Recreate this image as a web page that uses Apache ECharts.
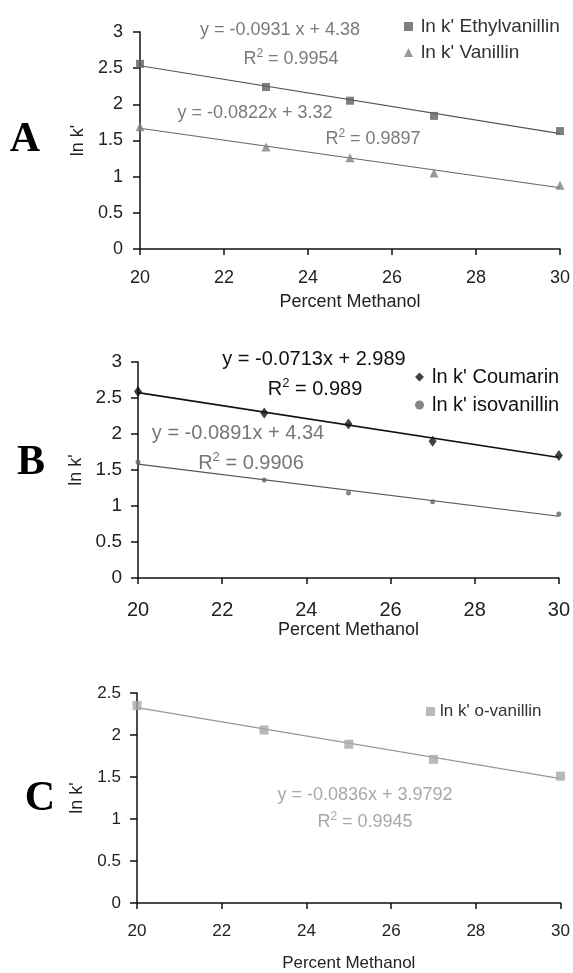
<!DOCTYPE html>
<html>
<head>
<meta charset="utf-8">
<script src="https://cdn.jsdelivr.net/npm/echarts@6/dist/echarts.min.js"></script>
<style>
  html, body { margin: 0; padding: 0; background: #fff; }
  #chart { width: 573px; height: 973px; }
</style>
</head>
<body>
<div id="chart"></div>
<script>
// Percent methanol in the mobile phase
const methanol = [20, 23, 25, 27, 30];

// ln k' retention values per compound
const ethylvanillin = [2.56, 2.24, 2.05, 1.84, 1.63];
const vanillin      = [1.69, 1.41, 1.26, 1.05, 0.88];
const coumarin      = [2.59, 2.29, 2.14, 1.90, 1.70];
const isovanillin   = [1.61, 1.36, 1.18, 1.06, 0.89];
const oVanillin     = [2.35, 2.06, 1.89, 1.71, 1.51];

// Trend-line annotations: equation, R squared
const eqEthyl = ['y = -0.0931 x + 4.38', '0.9954'];
const eqVan   = ['y = -0.0822x + 3.32', '0.9897'];
const eqCoum  = ['y = -0.0713x + 2.989', '0.989'];
const eqIso   = ['y = -0.0891x + 4.34', '0.9906'];
const eqOVan  = ['y = -0.0836x + 3.9792', '0.9945'];

const FONT = 'Liberation Sans, Arial, sans-serif';

function pairs(ys) { return methanol.map((x, i) => [x, ys[i]]); }

// least-squares fit, drawn across the full x range
function fitLine(ys) {
  const n = methanol.length;
  const mx = methanol.reduce((a, b) => a + b, 0) / n;
  const my = ys.reduce((a, b) => a + b, 0) / n;
  let sxy = 0, sxx = 0;
  methanol.forEach((x, i) => { sxy += (x - mx) * (ys[i] - my); sxx += (x - mx) * (x - mx); });
  const b = sxy / sxx, a = my - b * mx;
  return [[20, a + b * 20], [30, a + b * 30]];
}

const grids = [
  { left: 140, top: 32,  width: 423, height: 217 },
  { left: 138, top: 362, width: 423, height: 216 },
  { left: 137, top: 693, width: 425, height: 210 }
];

function xAxisFor(idx, fs, margin, gap, nameFs) {
  return {
    gridIndex: idx, type: 'value', min: 20, max: 30, interval: 2,
    name: 'Percent Methanol', nameLocation: 'middle', nameGap: gap,
    nameTextStyle: { fontFamily: FONT, fontSize: nameFs, color: '#222' },
    axisLine: { show: true, lineStyle: { color: '#111', width: 1.5 } },
    axisTick: { show: true, inside: false, length: 6, lineStyle: { color: '#111', width: 1.5 } },
    axisLabel: { fontFamily: FONT, fontSize: fs, color: '#222', margin: margin },
    splitLine: { show: false }
  };
}
function yAxisFor(idx, max, fs, margin, gap) {
  return {
    gridIndex: idx, type: 'value', min: 0, max: max, interval: 0.5,
    name: "ln k'", nameLocation: 'middle', nameGap: gap, nameRotate: 90,
    nameTextStyle: { fontFamily: FONT, fontSize: 18, color: '#222' },
    axisLine: { show: true, lineStyle: { color: '#111', width: 1.5 } },
    axisTick: { show: true, inside: false, length: 7, lineStyle: { color: '#111', width: 1.5 } },
    axisLabel: { fontFamily: FONT, fontSize: fs, color: '#222', margin: margin },
    splitLine: { show: false }
  };
}

function pointSeries(name, idx, ys, symbol, size, color) {
  return {
    name: name, type: 'scatter', xAxisIndex: idx, yAxisIndex: idx,
    data: pairs(ys), symbol: symbol, symbolSize: size,
    itemStyle: { color: color }, z: 5
  };
}
function trendSeries(idx, ys, color, width) {
  return {
    type: 'line', xAxisIndex: idx, yAxisIndex: idx, data: fitLine(ys),
    symbol: 'none', lineStyle: { color: color, width: width }, silent: true, z: 3
  };
}

function eqText(x, y, txt, color, fs) {
  return { type: 'text', x: x, y: y, style: {
    text: txt, fill: color, font: fs + 'px ' + FONT, align: 'center', verticalAlign: 'middle' } };
}
function r2Text(x, y, val, color, fs) {
  return { type: 'text', x: x, y: y, style: {
    text: 'R{s|2} = ' + val, fill: color, font: fs + 'px ' + FONT, align: 'center', verticalAlign: 'middle',
    rich: { s: { fontSize: Math.round(fs * 0.65), fill: color, verticalAlign: 'bottom', padding: [0, 0, 11, 0], fontFamily: FONT } } } };
}
function panelLetter(x, y, letter) {
  return { type: 'text', x: x, y: y, style: {
    text: letter, fill: '#000', font: 'bold 42px Liberation Serif, Times New Roman, serif',
    align: 'center', verticalAlign: 'middle' } };
}

function legendFor(top, left, names, icons, textColor, fs, gap, padLeft) {
  return {
    orient: 'vertical', top: top, left: left, itemGap: gap, itemWidth: 9, itemHeight: 9,
    padding: 0,
    textStyle: { fontFamily: FONT, fontSize: fs, color: textColor, padding: [0, 0, 0, padLeft] },
    data: names.map((n, i) => ({ name: n, icon: icons[i] }))
  };
}

const chart = echarts.init(document.getElementById('chart'), null, { renderer: 'canvas' });
chart.setOption({
  animation: false,
  backgroundColor: '#fff',
  grid: grids,
  xAxis: [xAxisFor(0, 18, 20, 44, 18), xAxisFor(1, 20, 22, 43, 18), xAxisFor(2, 17, 20, 52, 17)],
  yAxis: [yAxisFor(0, 3, 18, 17, 52), yAxisFor(1, 3, 19, 16, 48), yAxisFor(2, 2.5, 17, 16, 49)],
  legend: [
    legendFor(17, 404, ["ln k' Ethylvanillin", "ln k' Vanillin"], ['rect', 'triangle'], '#333', 19, 7, 3),
    legendFor(367, 415, ["ln k' Coumarin", "ln k' isovanillin"], ['diamond', 'circle'], '#111', 20, 8, 3),
    legendFor(703, 426, ["ln k' o-vanillin"], ['rect'], '#333', 17, 8, 0)
  ],
  series: [
    trendSeries(0, ethylvanillin, '#555', 1.2),
    trendSeries(0, vanillin, '#666', 1.2),
    pointSeries("ln k' Ethylvanillin", 0, ethylvanillin, 'rect', 8, '#5f5f5f'),
    pointSeries("ln k' Vanillin", 0, vanillin, 'triangle', 9, '#808080'),

    trendSeries(1, coumarin, '#111', 1.6),
    trendSeries(1, isovanillin, '#555', 1.2),
    pointSeries("ln k' Coumarin", 1, coumarin, 'diamond', [8, 11], '#111'),
    pointSeries("ln k' isovanillin", 1, isovanillin, 'circle', 5, '#666'),

    trendSeries(2, oVanillin, '#999', 1.2),
    pointSeries("ln k' o-vanillin", 2, oVanillin, 'rect', 9, '#a8a8a8')
  ],
  graphic: [
    panelLetter(25, 140, 'A'),
    panelLetter(31, 463, 'B'),
    panelLetter(40, 799, 'C'),

    eqText(280, 30, eqEthyl[0], '#7a7a7a', 18),
    r2Text(291, 59, eqEthyl[1], '#7a7a7a', 18),
    eqText(255, 113, eqVan[0], '#7a7a7a', 18),
    r2Text(373, 139, eqVan[1], '#7a7a7a', 18),

    eqText(314, 359, eqCoum[0], '#111', 20),
    r2Text(315, 389, eqCoum[1], '#111', 20),
    eqText(238, 433, eqIso[0], '#777', 20),
    r2Text(251, 463, eqIso[1], '#777', 20),

    eqText(365, 795, eqOVan[0], '#a8a8a8', 18),
    r2Text(365, 822, eqOVan[1], '#a8a8a8', 18)
  ]
});
</script>
</body>
</html>
